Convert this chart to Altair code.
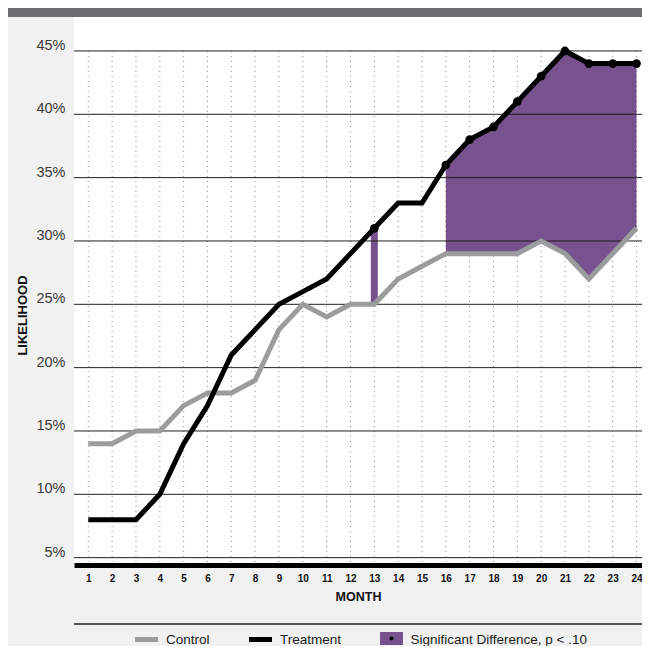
import altair as alt
import pandas as pd

# ---------------- data ----------------
months = list(range(1, 25))
control = [14, 14, 15, 15, 17, 18, 18, 19, 23, 25, 24, 25,
           25, 27, 28, 29, 29, 29, 29, 30, 29, 27, 29, 31]
treatment = [8, 8, 8, 10, 14, 17, 21, 23, 25, 26, 27, 29,
             31, 33, 33, 36, 38, 39, 41, 43, 45, 44, 44, 44]
significant = [13, 16, 17, 18, 19, 20, 21, 22, 23, 24]
y_ticks = [5, 10, 15, 20, 25, 30, 35, 40, 45]
series_names = ["Control", "Treatment", "Significant Difference, p < .10"]
x_title = "MONTH"
y_title = "LIKELIHOOD"

# ---------------- styling ----------------
FONT = "Liberation Sans"
GRAY = "#9b9c9e"
BLACK = "#000000"
PURPLE = "#78528f"
BAR = "#6d6e70"
BG = "#f1f1f1"
W, H = 568, 548
X_DOMAIN = [0.4, 24.23]
Y_DOMAIN = [4.42, 47.68]

# ---------------- table ----------------
rows = []
seg = 0
prev = None
for m, c, t in zip(months, control, treatment):
    sig = m in significant
    if sig and (prev is None or m != prev + 1):
        seg += 1
    if sig:
        prev = m
    rows.append(dict(month=m, control=c, treatment=t, sig=sig, seg=seg if sig else 0))
df = pd.DataFrame(rows)
sizes = df[df.sig].groupby("seg").size()
df["seg_len"] = df["seg"].map(sizes).fillna(0).astype(int)

xscale = alt.Scale(domain=X_DOMAIN, nice=False, zero=False)
yscale = alt.Scale(domain=Y_DOMAIN, nice=False, zero=False)

xaxis = alt.Axis(values=months, format="d", title=x_title, domain=True,
                 domainWidth=5, domainColor=BLACK, ticks=False, tickSize=0,
                 grid=False, labelFontSize=10, labelFontWeight="bold",
                 labelColor="#111111", labelPadding=13, labelBaseline="middle",
                 labelFlush=False, labelOverlap=False, labelFont=FONT,
                 titleFont=FONT, titleFontSize=12.5, titleFontWeight="bold",
                 titleColor="#111111", titleY=31, titleBaseline="middle")
yaxis = alt.Axis(values=y_ticks, labelExpr="datum.value + '%'", title=y_title,
                 domain=False, ticks=False, tickSize=0, grid=False,
                 labelPadding=9, labelFontSize=14.5, labelColor="#3a3a3a",
                 labelFont=FONT, labelBaseline="alphabetic", labelOffset=-1.5,
                 labelAlign="right", labelOverlap=False, labelFlush=False,
                 titleFont=FONT, titleFontSize=13, titleFontWeight="bold",
                 titleColor="#111111", titleX=-52, titleY=298, titleAngle=270,
                 titleAlign="center", titleBaseline="middle")

X = alt.X("month:Q", scale=xscale, axis=xaxis)


def Y(field):
    return alt.Y(field, scale=yscale, axis=yaxis)


base = alt.Chart(df)

vgrid = base.transform_calculate(
    gtop=str(max(y_ticks)), gbottom=str(Y_DOMAIN[0])
).mark_rule(color="#8a8a8a", strokeWidth=1, strokeDash=[1, 4]).encode(
    x=X, y=Y("gtop:Q"), y2="gbottom:Q")

area = base.transform_filter("datum.sig && datum.seg_len > 1").mark_area(
    color=PURPLE, opacity=1, interpolate="linear").encode(
    x=X, y=Y("treatment:Q"), y2="control:Q", detail="seg:N")

single = base.transform_filter("datum.sig && datum.seg_len == 1").mark_rule(
    color=PURPLE, strokeWidth=7).encode(
    x=X, y=Y("treatment:Q"), y2="control:Q")

hgrid = alt.Chart(pd.DataFrame({"tick": y_ticks})).mark_rule(
    color="#231f20", strokeWidth=1).encode(y=Y("tick:Q"))

line_c = base.mark_line(color=GRAY, strokeWidth=5).encode(x=X, y=Y("control:Q"))
line_t = base.mark_line(color=BLACK, strokeWidth=5).encode(x=X, y=Y("treatment:Q"))

dots = base.transform_filter("datum.sig").mark_point(
    filled=True, color=BLACK, size=75, opacity=1, shape="circle").encode(
    x=X, y=Y("treatment:Q"))

one = alt.Data(values=[{"k": 0}])

top_bar = alt.Chart(one).mark_rect(color=BAR).encode(
    x=alt.value(-66), x2=alt.value(W), y=alt.value(-9), y2=alt.value(0))

sep = alt.Chart(one).mark_rule(color="#231f20", strokeWidth=1.5).encode(
    x=alt.value(0), x2=alt.value(W), y=alt.value(607))

sw_c = alt.Chart(one).mark_rule(color=GRAY, strokeWidth=5).encode(
    x=alt.value(61), x2=alt.value(84), y=alt.value(622.5))
sw_t = alt.Chart(one).mark_rule(color=BLACK, strokeWidth=5).encode(
    x=alt.value(175), x2=alt.value(198), y=alt.value(622.5))
sw_s = alt.Chart(one).mark_rect(color=PURPLE).encode(
    x=alt.value(306), x2=alt.value(329), y=alt.value(615), y2=alt.value(628))
sw_dot = alt.Chart(one).mark_point(filled=True, color=BLACK, size=16,
                                   opacity=1, shape="circle").encode(
    x=alt.value(317.5), y=alt.value(621.5))


def legend_text(name, xpos):
    return alt.Chart(alt.Data(values=[{"label": name}])).mark_text(
        align="left", baseline="alphabetic", fontSize=13.5, font=FONT,
        color="#231f20").encode(x=alt.value(xpos), y=alt.value(627),
                                text="label:N")


txt_c = legend_text(series_names[0], 92)
txt_t = legend_text(series_names[1], 206)
txt_s = legend_text(series_names[2], 336.5)

chart = alt.layer(
    vgrid, area, single, hgrid, line_c, line_t, dots,
    top_bar, sep, sw_c, sw_t, sw_s, sw_dot, txt_c, txt_t, txt_s
).properties(
    width=W, height=H,
    padding={"left": 66, "top": 9, "right": 0, "bottom": 81},
    autosize=alt.AutoSizeParams(type="none"),
).configure(
    background=BG, font=FONT
).configure_view(
    fill="white", strokeWidth=0
)

chart.save("out.html", embed_options={"renderer": "svg", "actions": False})
